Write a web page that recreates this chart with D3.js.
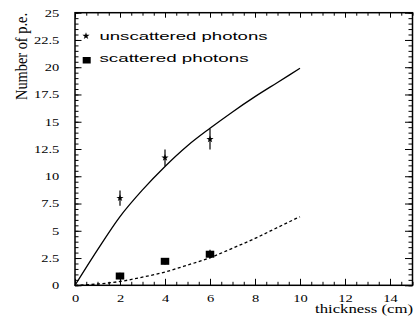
<!DOCTYPE html>
<html><head><meta charset="utf-8">
<script src="https://cdn.jsdelivr.net/npm/d3@7"></script>
<style>body{margin:0;background:#fff}svg{display:block}</style>
</head><body>
<svg id="c" width="414" height="325"></svg>
<script>
// ---- data ----
const xTickValues = [0, 2, 4, 6, 8, 10, 12, 14];
const yTickLabels = ["0", "2.5", "5", "7.5", "10", "12.5", "15", "17.5", "20", "22.5", "25"];
const unscatX = [2, 4, 6];
const unscatY = [8.0, 11.7, 13.4];
const unscatErr = [0.7, 0.75, 0.95];
const scatX = [2, 4, 6];
const scatY = [0.85, 2.2, 2.85];
const scatErr = [0.3, 0.3, 0.4];
const fitSolidX = [0, 1, 2, 3, 4, 5, 6, 7, 8, 9, 10];
const fitSolidY = [0, 3.25, 6.3, 8.75, 10.9, 12.8, 14.4, 15.9, 17.3, 18.6, 19.9];
const fitDashX = [0, 1, 2, 3, 4, 5, 6, 7, 8, 9, 10];
const fitDashY = [0, 0.12, 0.35, 0.75, 1.22, 1.85, 2.53, 3.4, 4.3, 5.3, 6.3];
const legendLabels = ["unscattered photons", "scattered photons"];

const svg = d3.select("#c");
const L = 75, R = 412.5, T = 12.7, B = 285.3;
const x = d3.scaleLinear().domain([0, 15]).range([L, R]);
const y = d3.scaleLinear().domain([0, 25]).range([B, T]);
const SX = 1.45;

const minorX = d3.range(0, 15.01, 0.5);
const minorY = d3.range(0, 25.01, 0.5);
const majorY = yTickLabels.map(Number);

function styleAxis(g) {
  g.select(".domain").remove();
  g.selectAll("line").attr("stroke", "#000").attr("stroke-width", 1);
}

// minor ticks
svg.append("g").attr("transform", `translate(0,${B})`)
  .call(d3.axisBottom(x).tickValues(minorX).tickSize(-3.5).tickFormat(""))
  .call(styleAxis);
svg.append("g").attr("transform", `translate(0,${T})`)
  .call(d3.axisTop(x).tickValues(minorX).tickSize(-3).tickFormat(""))
  .call(styleAxis);
svg.append("g").attr("transform", `translate(${L},0)`)
  .call(d3.axisLeft(y).tickValues(minorY).tickSize(-3.5).tickFormat(""))
  .call(styleAxis);
svg.append("g").attr("transform", `translate(${R},0)`)
  .call(d3.axisRight(y).tickValues(minorY).tickSize(-4).tickFormat(""))
  .call(styleAxis);

// major ticks with labels
const xAx = svg.append("g").attr("transform", `translate(0,${B})`)
  .call(d3.axisBottom(x).tickValues(xTickValues).tickSize(-6.5).tickFormat(d3.format("d")))
  .call(styleAxis);
xAx.selectAll("text")
  .attr("y", null).attr("dy", null)
  .attr("transform", `translate(0,16.2) scale(${SX},1)`)
  .attr("font-family", "Liberation Serif, Times New Roman, serif")
  .attr("font-size", 10).attr("fill", "#000").attr("text-anchor", "middle");

svg.append("g").attr("transform", `translate(0,${T})`)
  .call(d3.axisTop(x).tickValues(xTickValues).tickSize(-5).tickFormat(""))
  .call(styleAxis);

const yAx = svg.append("g").attr("transform", `translate(${L},0)`)
  .call(d3.axisLeft(y).tickValues(majorY).tickSize(-6.5).tickFormat((d, i) => yTickLabels[i]))
  .call(styleAxis);
yAx.selectAll("text")
  .attr("x", null).attr("dy", null)
  .attr("transform", `translate(-15.7,3.4) scale(${SX},1)`)
  .attr("font-family", "Liberation Serif, Times New Roman, serif")
  .attr("font-size", 10).attr("fill", "#000").attr("text-anchor", "end");

svg.append("g").attr("transform", `translate(${R},0)`)
  .call(d3.axisRight(y).tickValues(majorY).tickSize(-7.5).tickFormat(""))
  .call(styleAxis);

// frame
svg.append("rect").attr("x", L).attr("y", T).attr("width", R - L).attr("height", B - T)
  .attr("fill", "none").attr("stroke", "#000").attr("stroke-width", 1.5);

// fit curves
const line = d3.line().x(d => x(d[0])).y(d => y(d[1])).curve(d3.curveMonotoneX);
svg.append("path").datum(fitSolidX.map((v, i) => [v, fitSolidY[i]]))
  .attr("d", line).attr("fill", "none").attr("stroke", "#000").attr("stroke-width", 1.3);
svg.append("path").datum(fitDashX.map((v, i) => [v, fitDashY[i]]))
  .attr("d", line).attr("fill", "none").attr("stroke", "#000").attr("stroke-width", 1.3)
  .attr("stroke-dasharray", "3,2.5");

// error bars
function errBars(xs, ys, es) {
  svg.append("g").selectAll("line").data(xs).join("line")
    .attr("x1", d => x(d)).attr("x2", d => x(d))
    .attr("y1", (d, i) => y(ys[i] - es[i])).attr("y2", (d, i) => y(ys[i] + es[i]))
    .attr("stroke", "#000").attr("stroke-width", 1.2);
}
errBars(unscatX, unscatY, unscatErr);
errBars(scatX, scatY, scatErr);

const star = d3.symbol().type(d3.symbolStar).size(16);
svg.append("g").selectAll("path").data(unscatX).join("path")
  .attr("transform", (d, i) => `translate(${x(d)},${y(unscatY[i])})`)
  .attr("d", star).attr("fill", "#000");

const sw = 8.5, sh = 7;
svg.append("g").selectAll("rect").data(scatX).join("rect")
  .attr("x", d => x(d) - sw / 2).attr("y", (d, i) => y(scatY[i]) - sh / 2)
  .attr("width", sw).attr("height", sh).attr("fill", "#000");

// legend
svg.append("path").attr("transform", "translate(86,36)").attr("d", star).attr("fill", "#000");
svg.append("rect").attr("x", 82.7).attr("y", 57).attr("width", 8).attr("height", 6.5).attr("fill", "#000");
const legW = [168, 149];
const legY = [40, 62];
legendLabels.forEach((t, i) => {
  svg.append("text").attr("x", 99.5).attr("y", legY[i]).text(t)
    .attr("font-family", "Liberation Sans, Arial, sans-serif").attr("font-size", 11.5)
    .attr("textLength", legW[i]).attr("lengthAdjust", "spacingAndGlyphs").attr("fill", "#000");
});

// axis titles
svg.append("text").attr("x", 413).attr("y", 312.5).text("thickness (cm)")
  .attr("text-anchor", "end").attr("font-family", "Liberation Serif, Times New Roman, serif")
  .attr("font-size", 11.5).attr("textLength", 98).attr("lengthAdjust", "spacingAndGlyphs").attr("fill", "#000");
svg.append("text").attr("transform", `translate(27,100) scale(1.35,1) rotate(-90)`)
  .text("Number of p.e.")
  .attr("font-family", "Liberation Serif, Times New Roman, serif")
  .attr("font-size", 13).attr("textLength", 87).attr("lengthAdjust", "spacingAndGlyphs").attr("fill", "#000");
</script>
</body></html>
